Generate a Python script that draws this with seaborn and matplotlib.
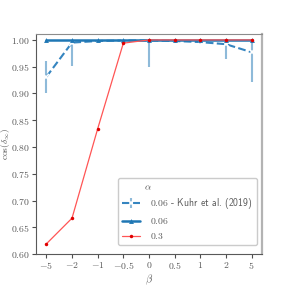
import numpy as np
import pandas as pd
import seaborn as sns
import matplotlib.pyplot as plt
from matplotlib.ticker import FuncFormatter

# data
beta = ['-5', '-2', '-1', '-0.5', '0', '0.5', '1', '2', '5']
kuhr_006 = [0.931, 0.995, 0.998, 0.999, 0.999, 0.998, 0.996, 0.992, 0.977]
kuhr_err_low = [0.030, 0.044, 0.002, 0.001, 0.049, 0.002, 0.003, 0.028, 0.056]
kuhr_err_high = [0.030, 0.005, 0.002, 0.001, 0.001, 0.002, 0.004, 0.008, 0.023]
ours_006 = [1.0, 1.0, 1.0, 1.0, 1.0, 1.0, 1.0, 1.0, 1.0]
ours_03 = [0.619, 0.667, 0.834, 0.994, 1.0, 1.0, 1.0, 1.0, 1.0]
labels = [r'$0.06$ - Kuhr et al. (2019)', r'$0.06$', r'$0.3$']

sns.set_style('ticks')
plt.rcParams['mathtext.fontset'] = 'cm'
plt.rcParams['font.family'] = ['cmss10', 'DejaVu Sans']
plt.rcParams['axes.unicode_minus'] = False
plt.rcParams['font.size'] = 7

fig = plt.figure(figsize=(2.91, 2.91), dpi=100)
ax = fig.add_axes([0.124, 0.127, 0.776, 0.756])

x_cat = pd.Categorical(beta, categories=beta)

eb = ax.errorbar(beta, kuhr_006, yerr=[kuhr_err_low, kuhr_err_high], fmt='none',
                 ecolor='#1f77b4', alpha=0.5, elinewidth=1.5, capsize=0)

sns.lineplot(x=x_cat, y=kuhr_006, ax=ax, sort=False, label=labels[0], color='#3585c0',
             linestyle='--', linewidth=1.5, marker='x', markersize=4, markeredgewidth=1.2)
sns.lineplot(x=x_cat, y=ours_006, ax=ax, sort=False, label=labels[1], color='#1f77b4',
             linewidth=1.8, marker='^', markersize=3.5, markeredgewidth=0)
sns.lineplot(x=x_cat, y=ours_03, ax=ax, sort=False, label=labels[2], color='#ff5555',
             linewidth=0.9, marker='o', markersize=2.5, markeredgewidth=0,
             markerfacecolor='#e00000')

ax.set_ylim(0.6, 1.011)
ax.set_xticks(range(len(beta)))
ax.set_xticklabels(['$' + b + '$' for b in beta])
ax.yaxis.set_major_formatter(FuncFormatter(lambda v, _: '$%.2f$' % v))
ax.set_xlabel(r'$\beta$', color='0.35', fontsize=7.5, labelpad=1)
ax.set_ylabel(r'$\cos(\delta_\infty)$', color='0.35', fontsize=6.8)
ax.yaxis.set_label_coords(-0.107, 0.5)
ax.tick_params(labelsize=7, length=3, width=0.8, pad=1.2, colors='0.3', labelcolor='0.35')

for side in ['left', 'bottom']:
    ax.spines[side].set_color('0.35')
ax.spines['top'].set_color('0.55')
ax.spines['right'].set_color('0.7')
ax.spines['right'].set_linewidth(1.6)

handles, labs = ax.get_legend_handles_labels()
handles[0] = (eb, handles[0])
leg = ax.legend(handles, labs, title='       ' + r'$\alpha$', loc='lower right',
                bbox_to_anchor=(0.978, 0.041), borderaxespad=0, fontsize=7,
                title_fontsize=7, alignment='left', handlelength=1.8,
                handletextpad=1.1, frameon=True)
leg.get_frame().set_edgecolor('0.75')
plt.setp(leg.get_texts(), color='0.35')
leg.get_title().set_color('0.35')

fig.savefig('out.png', dpi=100)
